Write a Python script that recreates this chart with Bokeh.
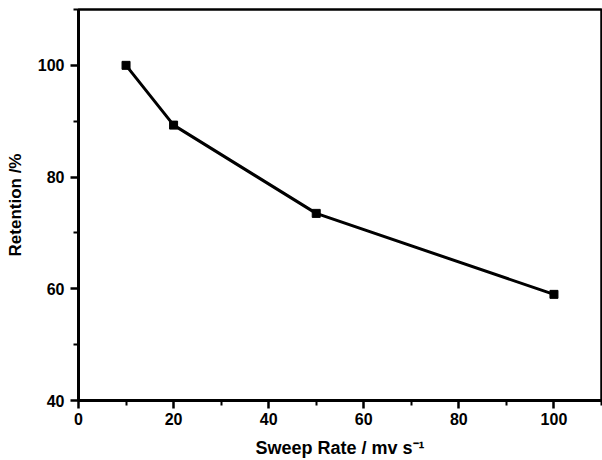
from bokeh.plotting import figure
from bokeh.models import Range1d, FixedTicker
from bokeh.embed import file_html
from bokeh.resources import INLINE

sweep_rate = [10, 20, 50, 100]
retention = [100, 89.3, 73.5, 59.0]
x_ticks = [0, 20, 40, 60, 80, 100]
x_minor = [10, 30, 50, 70, 90, 110]
y_ticks = [40, 60, 80, 100]
y_minor = [50, 70, 90, 110]

p = figure(width=602, height=460, output_backend="svg", toolbar_location=None,
           x_range=Range1d(0, 110), y_range=Range1d(40, 110),
           min_border_left=78, min_border_right=1, min_border_top=9, min_border_bottom=60)

p.line(sweep_rate, retention, line_color="black", line_width=3)
p.scatter(sweep_rate, retention, marker="square", size=8, fill_color="black", line_color="black")

p.xgrid.visible = False
p.ygrid.visible = False
p.outline_line_color = "black"
p.outline_line_width = 2.5
p.outline_line_alpha = 1

for ax, ticks, minor in ((p.xaxis[0], x_ticks, x_minor), (p.yaxis[0], y_ticks, y_minor)):
    ax.ticker = FixedTicker(ticks=ticks, minor_ticks=minor)
    ax.axis_line_width = 3
    ax.axis_line_color = "black"
    ax.major_tick_line_width = 2.5
    ax.minor_tick_line_width = 2
    ax.major_tick_out = 8
    ax.major_tick_in = 0
    ax.minor_tick_out = 5
    ax.minor_tick_in = 0
    ax.major_label_text_font = "Liberation Sans"
    ax.major_label_text_font_style = "bold"
    ax.major_label_text_font_size = "16px"
    ax.major_label_text_color = "black"
    ax.axis_label_text_font = "Liberation Sans"
    ax.axis_label_text_font_style = "bold"
    ax.axis_label_text_color = "black"

p.xaxis.axis_label = "Sweep Rate / mv s\u207b\u00b9"
p.yaxis.axis_label = "Retention /%"
p.xaxis.axis_label_text_font_size = "18px"
p.yaxis.axis_label_text_font_size = "17px"
p.xaxis.major_label_standoff = 4
p.yaxis.major_label_standoff = 6
p.xaxis.axis_label_standoff = 10
p.yaxis.axis_label_standoff = 10

open("out.html", "w").write(file_html(p, INLINE))
